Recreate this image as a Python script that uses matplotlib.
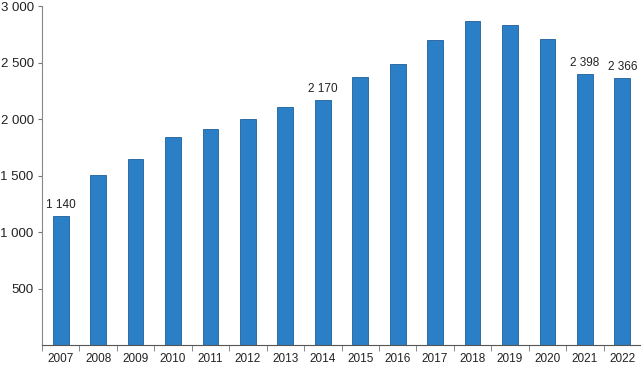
import numpy as np
import matplotlib
matplotlib.use("Agg")
import matplotlib.pyplot as plt
from matplotlib.ticker import FuncFormatter

years = [str(y) for y in range(2007, 2023)]
values = [1140, 1505, 1645, 1840, 1915, 2000, 2105, 2170,
          2370, 2485, 2700, 2870, 2835, 2710, 2398, 2366]
# only these bars carry a value label
labelled = {"2007": 1140, "2014": 2170, "2021": 2398, "2022": 2366}

plt.rcParams['font.family'] = ['Liberation Sans', 'DejaVu Sans']

fig = plt.figure(figsize=(6.41, 3.80), dpi=100)
ax = fig.add_axes([42/641, 1 - 345/380, 599/641, 339/380])

x = np.arange(len(years))
ax.bar(x, values, width=0.42, color='#2a7fc6', edgecolor='#1d5f9a', linewidth=0.6)

for i, y in enumerate(years):
    if y in labelled:
        v = labelled[y]
        ax.text(i, v + 45, "{:,}".format(v).replace(",", " "),
                ha='center', va='bottom', fontsize=8.5, color='#222222')

ax.set_xlim(-0.5, len(years) - 0.5)
ax.set_ylim(0, 3000)
ax.set_yticks([500, 1000, 1500, 2000, 2500, 3000])
ax.yaxis.set_major_formatter(FuncFormatter(lambda v, p: "{:,}".format(int(v)).replace(",", " ")))

ax.set_xticks(x)
ax.set_xticklabels(years)
ax.set_xticks(np.arange(-0.5, len(years)), minor=True)
ax.tick_params(axis='x', which='major', length=0, labelsize=8.5, pad=6, colors='#222222')
ax.tick_params(axis='x', which='minor', length=4, color='#777777')
ax.tick_params(axis='y', length=3, color='#777777', labelsize=9.5, labelcolor='#222222', pad=3)

for s in ['top', 'right']:
    ax.spines[s].set_visible(False)
ax.spines['left'].set_color('#888888')
ax.spines['bottom'].set_color('#555555')

fig.savefig("out.png", dpi=100)
